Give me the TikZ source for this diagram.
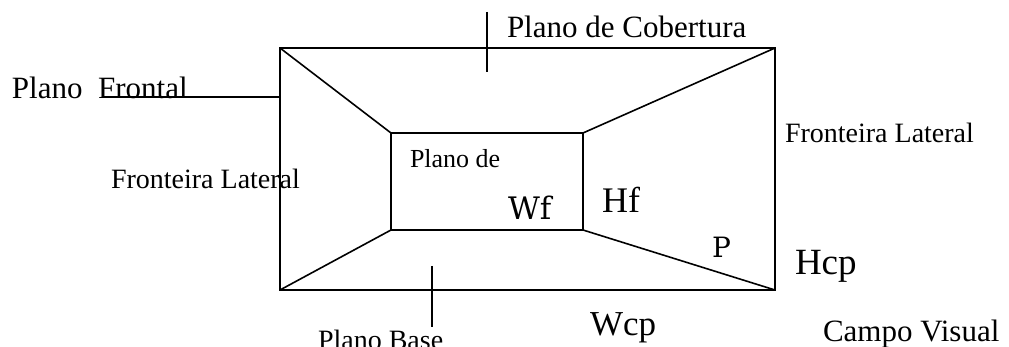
\documentclass[tikz,border=0pt]{standalone}
\usepackage{fontspec}
\setmainfont{Liberation Serif}
\newfontfamily\wffont{DejaVu Serif}
\begin{document}
\begin{tikzpicture}[x=1pt,y=-1pt,
  edge/.style={line width=1.6pt,line cap=round,line join=miter},
  lbl/.style={anchor=base west,inner sep=0pt,outer sep=0pt},
  fs/.style={font=\fontsize{#1}{#1}\selectfont}]
\useasboundingbox (0,0) rectangle (1009,347);
% outer and inner rectangles
\coordinate (o1) at (280,48);
\coordinate (o2) at (775,48);
\coordinate (o3) at (775,290);
\coordinate (o4) at (280,290);
\coordinate (i1) at (391,133);
\coordinate (i2) at (583,133);
\coordinate (i3) at (583,230);
\coordinate (i4) at (391,230);
\draw[edge] (o1) -- (o2) -- (o3) -- (o4) -- cycle;
\draw[edge] (i1) -- (i2) -- (i3) -- (i4) -- cycle;
\draw[edge] (o1) -- (i1);
\draw[edge] (o2) -- (i2);
\draw[edge] (o3) -- (i3);
\draw[edge] (o4) -- (i4);
% labels
\node[lbl,fs=31] (pf) at (12,99) {Plano\hspace{0.5em}Frontal};
\node[lbl,fs=31] (pc) at (507,38) {Plano de Cobertura};
\node[lbl,fs=28] (fr) at (785,143) {Fronteira Lateral};
\node[lbl,fs=28] (fl) at (111,189) {Fronteira Lateral};
\node[lbl,fs=26] (pd) at (410,168) {Plano de};
\node[lbl,font=\wffont\fontsize{31}{31}\selectfont] (wf) at (508,220) {Wf};
\node[lbl,fs=36] (hf) at (602,213) {Hf};
\node[lbl,font=\wffont\fontsize{28}{28}\selectfont] (p) at (712,258) {P};
\node[lbl,fs=37] (hcp) at (795,275) {Hcp};
\node[lbl,fs=35] (wcp) at (590,335) {Wcp};
\node[lbl,fs=28] (pb) at (318,349) {Plano Base};
\node[lbl,fs=31] (cv) at (823,341) {Campo Visual};
% leader lines
\coordinate (pfl) at (102,97);
\coordinate (pfr) at (280,97);
\draw[edge,line cap=butt] (pfl) -- (pfr);
\coordinate (tt) at (487,12);
\coordinate (tb) at (487,72);
\draw[edge,line cap=butt] (tt) -- (tb);
\coordinate (bt) at (432,266);
\coordinate (bb) at (432,327);
\draw[edge,line cap=butt] (bt) -- (bb);
\end{tikzpicture}
\end{document}
